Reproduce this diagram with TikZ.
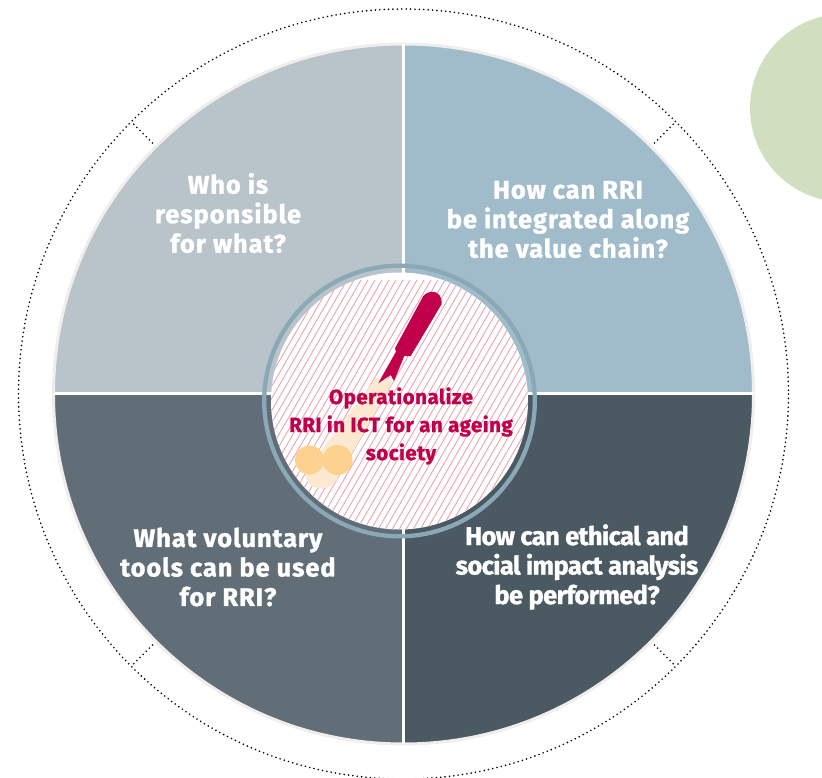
\documentclass[tikz,border=0pt]{standalone}
\usepackage{fontspec}
\setmainfont{Fira Sans}[BoldFeatures={FakeBold=1.2}]
\newlength{\du}
\setlength{\du}{1bp}
\tikzset{
  whitelabel/.style={text=white,font=\bfseries\fontsize{25.5\du}{29.5\du}\selectfont\addfontfeature{LetterSpace=3.6},align=center,inner sep=0pt},
  tightlabel/.style={whitelabel,font=\bfseries\fontsize{25.5\du}{29.5\du}\selectfont\addfontfeature{LetterSpace=-2.4}},
  centrelabel/.style={text=rocketcolor,font=\bfseries\fontsize{20.5\du}{28\du}\selectfont\addfontfeature{LetterSpace=2.5},align=center,inner sep=0pt},
  quarter/.style={line width=0pt},
  rim/.style={draw=rimcolor,line width=3\du},
  divider/.style={draw=white,line width=2.6\du},
  dotline/.style={draw=black,line width=1.8\du,line cap=round,dash pattern=on 0pt off 4.4\du},
  hatchline/.style={draw=hatchcolor,line width=0.95\du}
}
\definecolor{rimcolor}{HTML}{F0EEEC}
\definecolor{rocketcolor}{HTML}{C0004A}
\definecolor{hatchcolor}{HTML}{E8A8B4}
\definecolor{flamecolor}{HTML}{FDE9D2}
\definecolor{exhaustcolor}{HTML}{FDD28F}
\begin{document}
\begin{tikzpicture}
\pgftransformxscale{1.000000}
\pgftransformyscale{-1.000000}
\path[clip] (0\du,0\du) rectangle (822\du,778\du);
\definecolor{dialinecolor}{HTML}{D0DFBF}
\pgfsetfillcolor{dialinecolor}
\pgfpathellipse{\pgfpoint{844\du}{108\du}}{\pgfpoint{94\du}{0\du}}{\pgfpoint{0\du}{94\du}}
\pgfusepath{fill}
% outer dots
\draw[dotline] (403.5\du,394\du) circle (385\du);
\foreach \ang in {45,135,225,315}
  \draw[dotline] (403.5\du,394\du) ++(\ang:355\du) -- ++(\ang:30\du);
% the four quarters
\definecolor{dialinecolor}{HTML}{B8C3CA}
\fill[quarter,fill=dialinecolor] (403.5\du,394\du) -- ++(-350\du,0\du) arc[start angle=180,end angle=270,radius=350\du] -- cycle;
\definecolor{dialinecolor}{HTML}{A0BCCB}
\fill[quarter,fill=dialinecolor] (403.5\du,394\du) -- ++(0\du,-350\du) arc[start angle=270,end angle=360,radius=350\du] -- cycle;
\definecolor{dialinecolor}{HTML}{4B5962}
\fill[quarter,fill=dialinecolor] (403.5\du,394\du) -- ++(350\du,0\du) arc[start angle=0,end angle=90,radius=350\du] -- cycle;
\definecolor{dialinecolor}{HTML}{616E77}
\fill[quarter,fill=dialinecolor] (403.5\du,394\du) -- ++(0\du,350\du) arc[start angle=90,end angle=180,radius=350\du] -- cycle;
\draw[rim] (403.5\du,394\du) circle (350\du);
\draw[divider] (53.5\du,393.5\du) -- (753.5\du,393.5\du);
\draw[divider] (403.5\du,44\du) -- (403.5\du,744\du);
% middle disc
\definecolor{dialinecolor}{HTML}{8AA8B5}
\draw[draw=dialinecolor,line width=4.3\du] (399.5\du,401\du) circle (135.3\du);
\fill[white] (399.5\du,401\du) circle (128.5\du);
\begin{scope}
\clip (399.5\du,401\du) circle (128.5\du);
\foreach \hx in {120,127,...,540}
  \draw[hatchline] (\hx\du,540\du) -- ++(150\du,-260\du);
\end{scope}
% flame
\fill[flamecolor] (376\du,378\du) -- (394\du,380\du) -- (336\du,481\du) .. controls (329\du,493\du) and (305\du,491\du) .. (305\du,472\du) -- cycle;
\fill[exhaustcolor] (309.5\du,460\du) circle (14.5\du);
\fill[exhaustcolor] (337.5\du,460\du) circle (15\du);
% rocket
\fill[rocketcolor] (423.3\du,296\du) .. controls (428\du,290\du) and (442\du,288.5\du) .. (441.7\du,304\du)
  -- (410.7\du,356\du) -- (404.3\du,356\du) -- (394\du,381\du) -- (390.7\du,375\du) -- (378.3\du,383.3\du)
  -- (396\du,351.7\du) -- (395\du,348.3\du) -- cycle;
% labels
\node[whitelabel] (who) at (228\du,213\du) {Who is\\responsible\\for what?};
\node[whitelabel] (chain) at (568\du,219.5\du) {How can RRI\\be integrated along\\the value chain?};
\node[whitelabel] (tools) at (228\du,567\du) {What voluntary\\tools can be used\\for RRI?};
\node[tightlabel] (impact) at (577\du,567\du) {How can ethical and\\social impact analysis\\be performed?};
\node[centrelabel] (goal) at (401\du,426\du) {Operationalize\\RRI in ICT for an ageing\\society};
\end{tikzpicture}
\end{document}
